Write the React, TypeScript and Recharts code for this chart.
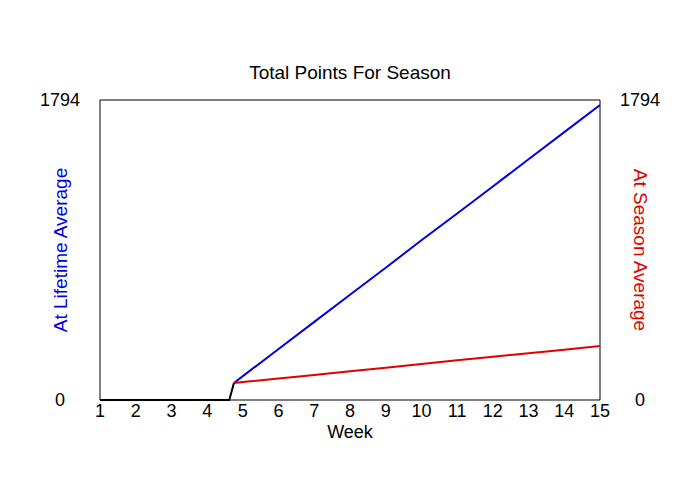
import React from "react";
import { LineChart, Line, XAxis, YAxis, ReferenceArea } from "recharts";

const weekTicks = [1, 2, 3, 4, 5, 6, 7, 8, 9, 10, 11, 12, 13, 14, 15];
const yTicks = [0, 1794];

const baseWeeks = [1, 4.62, 4.75];
const baseValues = [0, 0, 102];

const avgWeeks = [4.75, 5, 6, 7, 8, 9, 10, 11, 12, 13, 14, 15];
const lifetimeValues = [102, 143, 305, 467, 629, 791, 955, 1115, 1277, 1440, 1602, 1764];
const seasonValues = [102, 107, 129, 150, 172, 193, 215, 237, 258, 280, 301, 323];

const baseData = baseWeeks.map((w, i) => ({ week: w, value: baseValues[i] }));
const lifetimeData = avgWeeks.map((w, i) => ({ week: w, value: lifetimeValues[i] }));
const seasonData = avgWeeks.map((w, i) => ({ week: w, value: seasonValues[i] }));

const FONT = "'Liberation Sans', Arial, sans-serif";
const TICK_SIZE = 18;

const LeftTick = (props: any) => (
  <text x={props.x - 40} y={props.y} textAnchor="middle" dy="0.35em" fontSize={TICK_SIZE} fill="#000" fontFamily={FONT}>
    {props.payload.value}
  </text>
);
const RightTick = (props: any) => (
  <text x={props.x + 40} y={props.y} textAnchor="middle" dy="0.35em" fontSize={TICK_SIZE} fill="#000" fontFamily={FONT}>
    {props.payload.value}
  </text>
);
const BottomTick = (props: any) => (
  <text x={props.x} y={props.y + 11} textAnchor="middle" dy="0.35em" fontSize={TICK_SIZE} fill="#000" fontFamily={FONT}>
    {props.payload.value}
  </text>
);

export default function App() {
  return (
    <div style={{ position: "absolute", left: 0, top: 0, width: 700, height: 500, background: "#fff" }}>
      <LineChart width={700} height={500} margin={{ top: 100, right: 60, bottom: 70, left: 60 }}>
        <XAxis
          type="number"
          dataKey="week"
          domain={[1, 15]}
          ticks={weekTicks}
          allowDataOverflow
          height={30}
          tickSize={0}
          tickMargin={0}
          tick={<BottomTick />}
          axisLine={false}
          tickLine={false}
          interval={0}
        />
        <YAxis
          yAxisId="left"
          domain={[0, 1794]}
          ticks={yTicks}
          width={40}
          tickSize={0}
          tickMargin={0}
          tick={<LeftTick />}
          axisLine={false}
          tickLine={false}
          interval={0}
        />
        <YAxis
          yAxisId="right"
          orientation="right"
          domain={[0, 1794]}
          ticks={yTicks}
          width={40}
          tickSize={0}
          tickMargin={0}
          tick={<RightTick />}
          axisLine={false}
          tickLine={false}
          interval={0}
        />
        <ReferenceArea yAxisId="left" x1={1} x2={15} y1={0} y2={1794} stroke="#000" strokeWidth={1} fill="none" fillOpacity={0} ifOverflow="visible" />
        <Line yAxisId="left" data={lifetimeData} dataKey="value" type="linear" stroke="#0000dd" strokeWidth={2} dot={false} isAnimationActive={false} />
        <Line yAxisId="right" data={seasonData} dataKey="value" type="linear" stroke="#e00000" strokeWidth={2} dot={false} isAnimationActive={false} />
        <Line yAxisId="left" data={baseData} dataKey="value" type="linear" stroke="#000" strokeWidth={2} dot={false} isAnimationActive={false} />
        <text x={350} y={72} textAnchor="middle" dominantBaseline="central" fontSize={19} fontFamily={FONT} fill="#000">
          Total Points For Season
        </text>
        <text x={350} y={432} textAnchor="middle" dominantBaseline="central" fontSize={18} fontFamily={FONT} fill="#000">
          Week
        </text>
        <text x={60} y={250} textAnchor="middle" dominantBaseline="central" fontSize={19} fontFamily={FONT} fill="#0000dd" transform="rotate(-90 60 250)">
          At Lifetime Average
        </text>
        <text x={640} y={250} textAnchor="middle" dominantBaseline="central" fontSize={19} fontFamily={FONT} fill="#e00000" transform="rotate(90 640 250)">
          At Season Average
        </text>
      </LineChart>
    </div>
  );
}
